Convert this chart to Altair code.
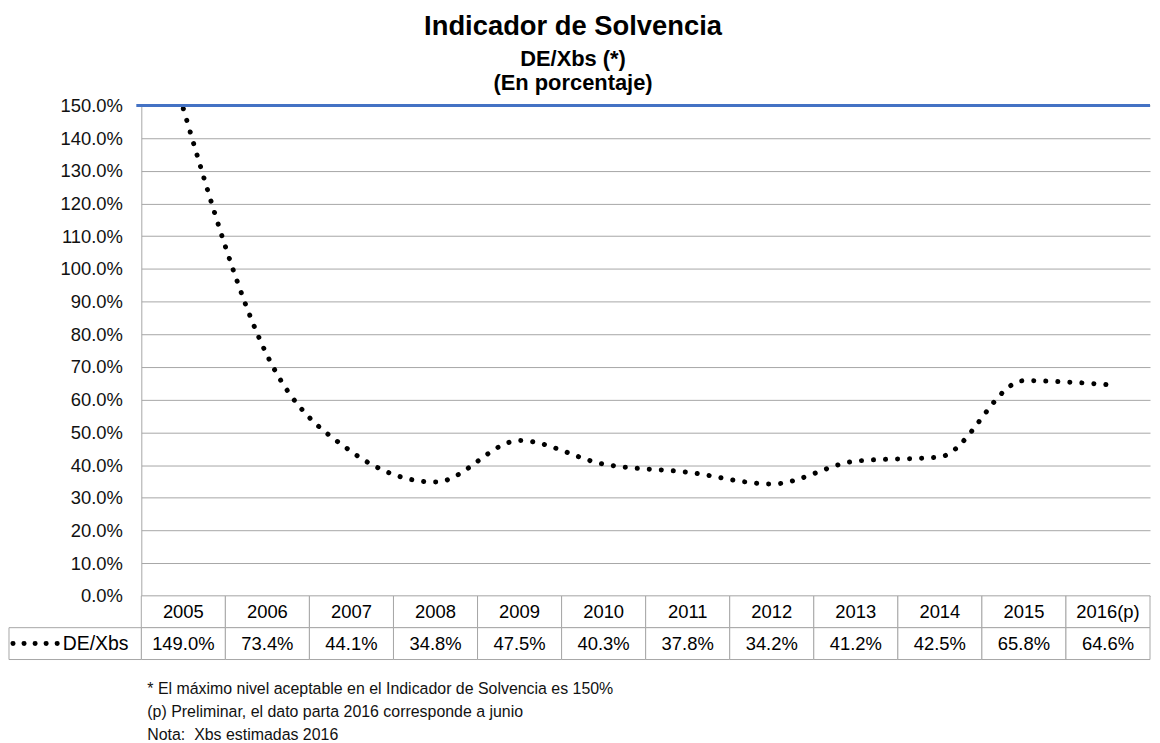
import altair as alt
import pandas as pd

# ---------------- data ----------------
years = ["2005", "2006", "2007", "2008", "2009", "2010", "2011", "2012",
         "2013", "2014", "2015", "2016(p)"]
values = [149.0, 73.4, 44.1, 34.8, 47.5, 40.3, 37.8, 34.2, 41.2, 42.5, 65.8, 64.6]
limit_value = [150.0]
series_name = "DE/Xbs"
y_ticks = [0, 10, 20, 30, 40, 50, 60, 70, 80, 90, 100, 110, 120, 130, 140, 150]
title_text = "Indicador de Solvencia"
subtitle_lines = ["DE/Xbs (*)", "(En porcentaje)"]
footnotes = [
    "* El máximo nivel aceptable en el Indicador de Solvencia es 150%",
    "\u00a0(p) Preliminar, el dato parta 2016 corresponde a junio",
    "\u00a0Nota:\u00a0 Xbs estimadas 2016",
]
table_rows = ["header", "values"]

# ---------------- layout / style ----------------
FONT = "Liberation Sans"
W = 1014
H = 493
TABLE_H = 64
GRID = "#A6A6A6"

df = pd.DataFrame({"year": years, "value": values})
xscale = alt.Scale(domain=years, paddingInner=0, paddingOuter=0)
yscale = alt.Scale(domain=[0, 150], nice=False)
y_axis = alt.Axis(
    values=y_ticks,
    labelExpr="format(datum.value, '.1f') + '%'",
    title=None, grid=True, gridColor=GRID, gridWidth=1,
    domainColor=GRID, ticks=False, labelPadding=19, labelOverlap=False,
    labelFontSize=18.5, labelFont=FONT, labelColor="#111111",
)

line = alt.Chart(df).mark_line(
    color="black", strokeWidth=5, strokeDash=[0.1, 12], strokeCap="round",
    interpolate="monotone",
).encode(
    x=alt.X("year:N", scale=xscale, sort=years, axis=None),
    y=alt.Y("value:Q", scale=yscale, axis=y_axis),
)

limit_rule = alt.Chart(pd.DataFrame({"limit": limit_value})).mark_rule(
    color="#4472C4", strokeWidth=3
).encode(
    y=alt.Y("limit:Q", scale=yscale, axis=y_axis),
    x=alt.value(-5),
    x2=alt.value(W),
)

top = alt.layer(line, limit_rule).properties(
    width=W, height=H,
    title=alt.TitleParams(
        text=title_text, subtitle=subtitle_lines,
        font=FONT, fontSize=27.5, fontWeight="bold", color="black",
        subtitleFont=FONT, subtitleFontSize=22, subtitleFontWeight="bold",
        subtitleColor="black", subtitleLineHeight=25, subtitlePadding=8,
        anchor="middle", frame="group", dx=-73, offset=2,
    ),
)

# ---------------- data table ----------------
cell_rows = []
for r in table_rows:
    for y, v in zip(years, values):
        label = y if r == "header" else f"{v:.1f}%"
        cell_rows.append({"year": y, "row": r, "label": label})
cells = pd.DataFrame(cell_rows)
yscale_t = alt.Scale(domain=table_rows, paddingInner=0, paddingOuter=0)

cell_rect = alt.Chart(cells).mark_rect(fill="white", stroke=GRID, strokeWidth=1).encode(
    x=alt.X("year:N", scale=xscale, sort=years, axis=None),
    y=alt.Y("row:N", scale=yscale_t, axis=None),
)
cell_text = alt.Chart(cells).mark_text(font=FONT, fontSize=18.5, color="black").encode(
    x=alt.X("year:N", scale=xscale, sort=years, axis=None),
    y=alt.Y("row:N", scale=yscale_t, axis=None),
    text="label:N",
)
legend_df = pd.DataFrame({"row": ["values"], "label": [series_name]})
legend_cell = alt.Chart(legend_df).mark_rect(fill="white", stroke=GRID, strokeWidth=1).encode(
    x=alt.value(-133), x2=alt.value(0),
    y=alt.Y("row:N", scale=yscale_t, axis=None),
)
legend_dots = alt.Chart(legend_df).mark_rule(
    color="black", strokeWidth=5, strokeDash=[0.1, 11], strokeCap="round"
).encode(
    x=alt.value(-129), x2=alt.value(-84), y=alt.value(48),
)
legend_text = alt.Chart(legend_df).mark_text(
    font=FONT, fontSize=19.5, color="black", align="left"
).encode(
    x=alt.value(-79),
    y=alt.Y("row:N", scale=yscale_t, axis=None),
    text="label:N",
)
table = alt.layer(cell_rect, cell_text, legend_cell, legend_dots, legend_text).properties(
    width=W, height=TABLE_H
)

# ---------------- footnotes ----------------
notes_df = pd.DataFrame({"i": list(range(len(footnotes))), "txt": footnotes})
notes = alt.Chart(notes_df).mark_text(
    font=FONT, fontSize=16, color="#111111", align="left"
).encode(
    x=alt.value(6),
    y=alt.Y("i:Q", scale=alt.Scale(domain=[-1.304, 2.174], reverse=True, nice=False, zero=False), axis=None),
    text="txt:N",
).properties(width=W, height=80)

chart = alt.vconcat(top, table, notes, spacing=0, bounds="flush").properties(
    padding={"left": 0, "top": 3, "right": 0, "bottom": 0}
).configure_view(stroke=None).configure_concat(spacing=0)

chart.save("out.html", embed_options={"renderer": "svg", "actions": False})
